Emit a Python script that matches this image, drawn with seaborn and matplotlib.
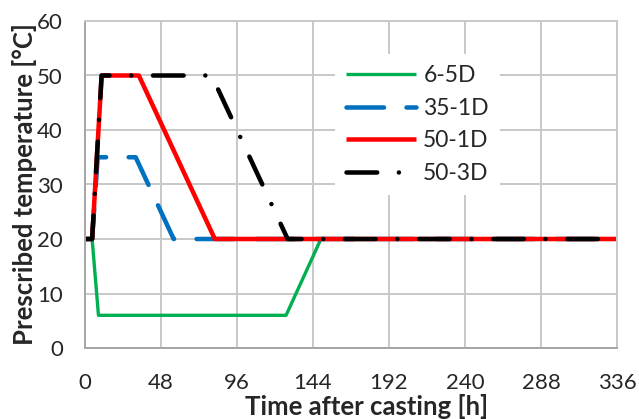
import pandas as pd
import matplotlib
matplotlib.use("Agg")
import matplotlib.pyplot as plt
import seaborn as sns

# Prescribed temperature histories
time_65 = [0, 4.5, 8.5, 127, 149, 336]
temp_65 = [20, 20, 6, 6, 20, 20]

time_351 = [0, 4.5, 8, 32, 56, 336]
temp_351 = [20, 20, 35, 35, 20, 20]

time_501 = [0, 4.5, 10.5, 34, 82, 336]
temp_501 = [20, 20, 50, 50, 20, 20]

time_503 = [0, 4.5, 10.5, 80, 128, 336]
temp_503 = [20, 20, 50, 50, 20, 20]

cases = ["6-5D", "35-1D", "50-1D", "50-3D"]
x_ticks = list(range(0, 337, 48))
y_ticks = list(range(0, 61, 10))

frames = []
for name, t, v in zip(cases, [time_65, time_351, time_501, time_503],
                      [temp_65, temp_351, temp_501, temp_503]):
    frames.append(pd.DataFrame({"time": t, "temp": v, "case": name}))
data = pd.concat(frames, ignore_index=True)

sns.set_style("white")
plt.rcParams["font.family"] = ["Lato", "DejaVu Sans"]

palette = {"6-5D": "#00B050", "35-1D": "#0070C0", "50-1D": "#FF0000", "50-3D": "#000000"}
dashes = {"6-5D": "", "35-1D": (8.3, 5), "50-1D": "", "50-3D": (6.8, 4.8, 0.01, 4.8)}

fig = plt.figure(figsize=(6.39, 4.19), dpi=100)
ax = fig.add_axes([85 / 639, 1 - 348 / 419, (617 - 85) / 639, (348 - 21) / 419])

sns.lineplot(data=data, x="time", y="temp", hue="case", style="case",
             hue_order=cases, style_order=cases, palette=palette, dashes=dashes,
             estimator=None, sort=False, linewidth=3.25, ax=ax)

for line in ax.lines:
    line.set_dash_capstyle("round")
    line.set_solid_capstyle("butt")
ax.lines[0].set_linewidth(2.4)

ax.set_xlim(0, 336)
ax.set_ylim(0, 60)
ax.set_xticks(x_ticks)
ax.set_xticks(list(range(24, 337, 48)), minor=True)
ax.set_yticks(y_ticks)
ax.grid(True, which="major", color="#c8c8c8", linewidth=1.4)
ax.set_axisbelow(True)
for side in ["top", "right"]:
    ax.spines[side].set_color("#c8c8c8")
    ax.spines[side].set_linewidth(1.4)
for side in ["left", "bottom"]:
    ax.spines[side].set_color("#a6a6a6")
    ax.spines[side].set_linewidth(1.4)

ax.tick_params(axis="x", which="both", direction="in", length=5, width=1.2,
               color="#a6a6a6", pad=18, labelsize=16)
ax.tick_params(axis="y", length=0, pad=16, labelsize=16)

ax.set_xlabel("Time after casting [h]", fontsize=18.5, fontweight="bold")
ax.set_ylabel("Prescribed temperature [°C]", fontsize=18.5, fontweight="bold")
ax.xaxis.set_label_coords(0.53, -0.14)
ax.yaxis.set_label_coords(-0.09, 0.5)

leg = ax.legend(loc="upper left", bbox_to_anchor=(0.47, 0.9), fontsize=16.5,
                frameon=True, facecolor="white", edgecolor="none", framealpha=1,
                fancybox=False, handlelength=3.05, handletextpad=0.3,
                labelspacing=0.5, borderpad=0.5, borderaxespad=0)
for h, name in zip(leg.get_lines(), cases):
    h.set_dash_capstyle("round")
    h.set_linewidth(2.4 if name == "6-5D" else 3.25)

fig.savefig("out.png", dpi=100)
